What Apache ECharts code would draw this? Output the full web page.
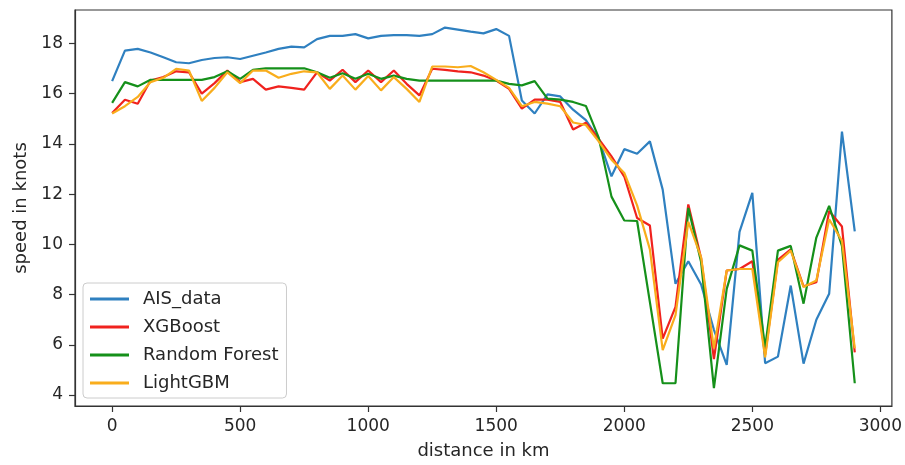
<!DOCTYPE html>
<html>
<head>
<meta charset="utf-8">
<script src="https://cdn.jsdelivr.net/npm/echarts@6/dist/echarts.min.js"></script>
<style>
  html, body { margin: 0; padding: 0; background: #ffffff; }
  #chart { width: 905px; height: 465px; }
</style>
</head>
<body>
<div id="chart"></div>
<script>
// Distance along the route (km) and speeds (knots)
const distanceKm = [
  0, 50, 100, 150, 200, 250, 300, 350, 400, 450,
  500, 550, 600, 650, 700, 750, 800, 850, 900, 950,
  1000, 1050, 1100, 1150, 1200, 1250, 1300, 1350, 1400, 1450,
  1500, 1550, 1600, 1650, 1700, 1750, 1800, 1850, 1900, 1950,
  2000, 2050, 2100, 2150, 2200, 2250, 2300, 2350, 2400, 2450,
  2500, 2550, 2600, 2650, 2700, 2750, 2800, 2850, 2900
];

const aisData = [
  16.50, 17.71, 17.78, 17.64, 17.45, 17.25, 17.21, 17.34, 17.42, 17.45,
  17.38, 17.51, 17.64, 17.78, 17.87, 17.84, 18.17, 18.30, 18.30, 18.37,
  18.20, 18.30, 18.33, 18.33, 18.30, 18.37, 18.63, 18.55, 18.47, 18.40,
  18.57, 18.30, 15.73, 15.21, 15.97, 15.89, 15.36, 14.95, 14.20, 12.71,
  13.79, 13.61, 14.10, 12.18, 8.43, 9.33, 8.40, 6.60, 5.20, 10.50,
  12.05, 5.27, 5.53, 8.36, 5.25, 7.00, 8.03, 14.49, 10.52
];

const xgboostData = [
  15.23, 15.76, 15.60, 16.52, 16.66, 16.89, 16.85, 16.00, 16.42, 16.92,
  16.46, 16.59, 16.16, 16.29, 16.23, 16.16, 16.85, 16.52, 16.95, 16.46,
  16.92, 16.46, 16.92, 16.39, 15.93, 16.99, 16.95, 16.89, 16.85, 16.72,
  16.52, 16.19, 15.40, 15.76, 15.76, 15.67, 14.57, 14.84, 14.20, 13.50,
  12.70, 11.05, 10.75, 6.25, 7.51, 11.59, 9.45, 5.43, 8.96, 9.02,
  9.33, 5.60, 9.38, 9.80, 8.33, 8.49, 11.33, 10.71, 5.70
];

const randomForestData = [
  15.63, 16.46, 16.29, 16.55, 16.55, 16.55, 16.55, 16.55, 16.66, 16.89,
  16.59, 16.95, 17.01, 17.01, 17.01, 17.01, 16.85, 16.63, 16.81, 16.59,
  16.79, 16.59, 16.72, 16.59, 16.52, 16.52, 16.52, 16.52, 16.52, 16.52,
  16.52, 16.39, 16.33, 16.50, 15.80, 15.76, 15.67, 15.51, 14.25, 11.90,
  10.95, 10.93, 7.70, 4.47, 4.47, 11.45, 9.30, 4.28, 8.23, 9.96,
  9.75, 5.90, 9.75, 9.94, 7.64, 10.27, 11.53, 9.94, 4.47
];

const lightgbmData = [
  15.21, 15.50, 15.87, 16.46, 16.63, 16.99, 16.92, 15.71, 16.23, 16.85,
  16.42, 16.92, 16.92, 16.63, 16.79, 16.89, 16.85, 16.19, 16.72, 16.16,
  16.70, 16.13, 16.66, 16.19, 15.67, 17.08, 17.08, 17.05, 17.10, 16.85,
  16.55, 16.23, 15.50, 15.67, 15.60, 15.50, 14.85, 14.75, 14.10, 13.37,
  12.84, 11.55, 9.80, 5.79, 7.18, 10.90, 9.48, 5.86, 8.96, 9.02,
  9.02, 5.50, 9.29, 9.75, 8.30, 8.56, 11.00, 10.14, 5.86
];

const xTicks = [0, 500, 1000, 1500, 2000, 2500, 3000];
const yTicks = [4, 6, 8, 10, 12, 14, 16, 18];

const seriesNames = ['AIS_data', 'XGBoost', 'Random Forest', 'LightGBM'];
const seriesColors = ['#2f80c0', '#f0221e', '#15901a', '#f9ad1c'];
const seriesValues = [aisData, xgboostData, randomForestData, lightgbmData];

const FONT = "'DejaVu Sans', sans-serif";
const TEXT_COLOR = '#262626';
const AXIS_COLOR = '#333333';

function pairs(values) {
  return distanceKm.map((d, i) => [d, values[i]]);
}

const chart = echarts.init(document.getElementById('chart'), null, { renderer: 'canvas' });

chart.setOption({
  animation: false,
  backgroundColor: '#ffffff',
  grid: {
    left: 75, right: 13, top: 10, bottom: 57,
    show: true,
    borderColor: AXIS_COLOR,
    borderWidth: 1.2,
    backgroundColor: 'transparent'
  },
  xAxis: {
    type: 'value',
    min: -145,
    max: 3045,
    name: 'distance in km',
    nameLocation: 'middle',
    nameGap: 36,
    nameTextStyle: { fontFamily: FONT, fontSize: 18, color: TEXT_COLOR },
    axisLine: { show: true, onZero: false, lineStyle: { color: AXIS_COLOR, width: 1.2 } },
    axisTick: { show: true, inside: false, length: 6, customValues: xTicks, lineStyle: { color: AXIS_COLOR, width: 1.2 } },
    axisLabel: { customValues: xTicks, margin: 12, fontFamily: FONT, fontSize: 17, color: TEXT_COLOR,
                 formatter: v => String(Math.round(v)) },
    splitLine: { show: false }
  },
  yAxis: {
    type: 'value',
    min: 3.565,
    max: 19.33,
    name: 'speed in knots',
    nameLocation: 'middle',
    nameRotate: 90,
    nameGap: 44,
    nameTextStyle: { fontFamily: FONT, fontSize: 18, color: TEXT_COLOR },
    axisLine: { show: true, onZero: false, lineStyle: { color: AXIS_COLOR, width: 1.2 } },
    axisTick: { show: true, inside: false, length: 6, customValues: yTicks, lineStyle: { color: AXIS_COLOR, width: 1.2 } },
    axisLabel: { customValues: yTicks, margin: 12, fontFamily: FONT, fontSize: 17, color: TEXT_COLOR,
                 formatter: v => String(Math.round(v)) },
    splitLine: { show: false }
  },
  legend: {
    data: seriesNames,
    orient: 'vertical',
    left: 83,
    top: 283,
    padding: [7, 8, 6, 7],
    itemGap: 10,
    itemWidth: 39,
    itemHeight: 3,
    icon: 'rect',
    backgroundColor: 'rgba(255,255,255,0.8)',
    borderColor: '#cccccc',
    borderWidth: 1,
    borderRadius: 4,
    textStyle: { fontFamily: FONT, fontSize: 18, color: TEXT_COLOR, padding: [0, 0, 0, 9] }
  },
  series: seriesNames.map((name, k) => ({
    name: name,
    type: 'line',
    data: pairs(seriesValues[k]),
    showSymbol: false,
    symbol: 'none',
    color: seriesColors[k],
    lineStyle: { color: seriesColors[k], width: 2.2 },
    z: 2 + k
  }))
});
</script>
</body>
</html>
